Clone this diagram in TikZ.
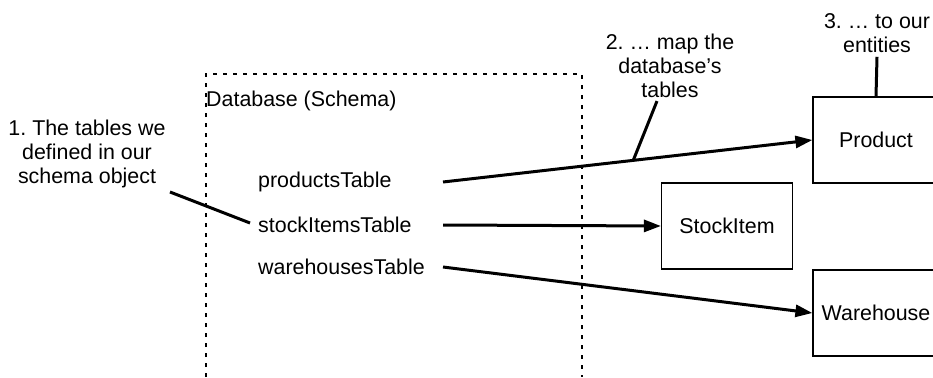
\documentclass[tikz,border=0pt]{standalone}
\usepackage{fontspec}
\setmainfont{Liberation Sans}
\usetikzlibrary{arrows.meta,positioning}
\frenchspacing

\begin{document}
\begin{tikzpicture}[x=1pt,y=-1pt,
    txt/.style={inner sep=0pt,font=\fontsize{21.4}{24}\selectfont},
    note/.style={txt,align=center},
    entity/.style={draw,line width=1.2pt,minimum width=126pt,minimum height=86pt,txt},
    map/.style={-{Triangle[length=17pt,width=12pt]},line width=3pt},
    callout/.style={line width=3pt}]
  \useasboundingbox (0,0) rectangle (933,377);
  \clip (0,0) rectangle (933,377);
  % Database box, open at the bottom
  \draw[line width=1.2pt,dash pattern=on 4pt off 6pt] (206,377) -- (206,74) -- (582,74) -- (582,377);
  \node[txt,anchor=west] (db) at (206,101) {Database (Schema)};
  % Tables
  \node[txt,anchor=west] (products) at (258,182) {productsTable};
  \node[txt,anchor=west] (stockItems) at (258,225) {stockItemsTable};
  \node[txt,anchor=west] (warehouses) at (258,267) {warehousesTable};
  % Entities
  \node[entity] (product) at (876,140) {Product};
  \node[entity,minimum width=131pt] (stockItem) at (727,226) {StockItem};
  \node[entity] (warehouse) at (876,313) {Warehouse};
  % Notes
  \node[note] (note1) at (87,154) {1. The tables we\\defined in our\\schema object};
  \node[note] (note2) at (670,66) {2. … map the\\database’s\\tables};
  \node[note] (note3) at (877,33) {3. … to our\\entities};
  % Arrows
  \coordinate (mapstart) at (443,0);
  \draw[map] (products -| mapstart) -- coordinate[pos=0.515] (onmap) (product.west);
  \draw[map] (stockItems -| mapstart) -- (stockItem.west);
  \draw[map] (warehouses -| mapstart) -- (warehouse.west);
  % Callouts
  \coordinate (c1) at (170,192);
  \draw[callout] (c1) -- ([xshift=-8pt,yshift=2pt]stockItems.west);
  \draw[callout] (onmap) -- ([xshift=-13pt,yshift=-3pt]note2.south);
  \draw[callout] ([yshift=-4pt]note3.south) -- (product.north);
\end{tikzpicture}
\end{document}
